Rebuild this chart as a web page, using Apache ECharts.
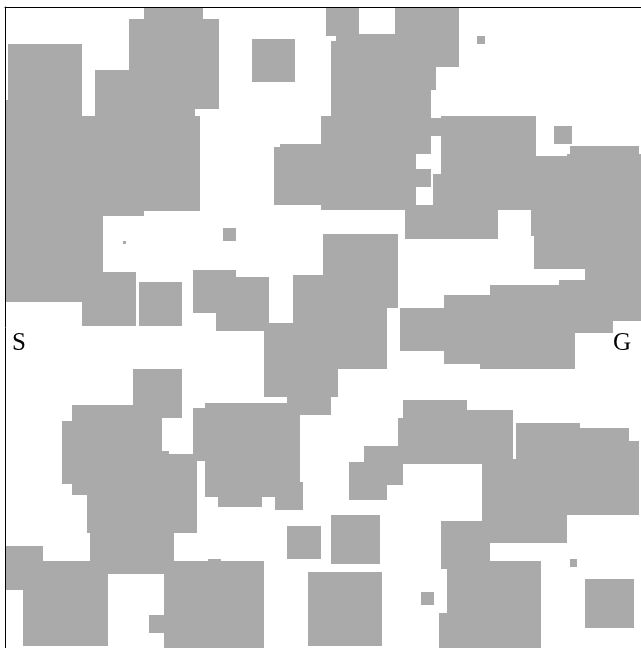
<!DOCTYPE html>
<html><head><meta charset="utf-8">
<style>html,body{margin:0;padding:0;background:#fff}#c{width:641px;height:648px}</style>
<script src="https://cdn.jsdelivr.net/npm/echarts@6/dist/echarts.min.js"></script>
</head><body><div id="c"></div>
<script>
// Obstacles in map units: [x0, y0, x1, y1]
const northWest = [[139,0,197.5,13],[123.5,11.5,213.5,101.5],[2.5,37,77.3,109],[90,63,190,109],[0,93,77.3,295],[0,109,97.5,295],[0,109,195.3,203.5],[0,198,139,209],[77.3,265.3,131,318.7]];
const isolated = [[133.7,275.3,177.3,318.7],[246.7,32,290,75.3],[218.3,221.3,231,234],[118.3,234.3,120.7,236.7],[472.3,29,480,37],[549.3,119,567.3,137],[282.3,518.7,315.7,551.7],[326,508.3,374.7,557],[303.3,564.7,377.3,639],[416,585.3,428.7,598],[564.7,552,572.3,559.7],[580,572.3,628.7,621]];
const centre = [[187.7,262.7,231,306],[210.7,270.3,264.3,323.7],[318.3,226.7,392.7,300.7],[287.7,267.7,382.3,362.3],[259.3,316,382.3,362.3],[259.3,316,333.3,390.3],[282.3,390,326,408.3]];
const southCentre = [[187.7,401,200.3,454.3],[200.3,395.7,295,490.3],[213.3,490,256.7,500.3],[269.7,475,297.7,503]];
const west = [[128.3,362.3,177.3,411],[67,398.3,156.7,487.7],[56.7,413.7,67,477.3],[82.3,447,192.3,526.3],[156.7,444.3,164.3,447],[85,526,169.3,567.3],[0,539,38.3,582.7],[18.3,554.3,102.7,639]];
const south = [[159.3,554.3,259.3,641],[203,552,215.7,555],[144,608.3,160,626.3]];
const southEast = [[397.7,393,462,413],[392.7,411,508.3,457.3],[462,403.3,508.3,413],[359.3,439.3,397.7,477.7],[344,454.7,382.3,493],[511,416.3,575,438],[575,421.3,623.7,438],[511,434,634,508.3],[477.3,452.3,634,508.3],[477.3,457,562.3,536.3],[436.3,513.7,485,562.3],[436.3,513.7,562.3,536.3],[441.7,554.3,536.3,641],[433.7,605.7,442,641]];
const north = [[321,0,354,29],[390.3,0,454,60],[331.3,26.7,454,60],[326,34.3,431.3,83],[326,83,426,109],[316,108.7,426,147.3],[316,108.7,410.7,203],[274.7,137,410.7,198],[269.3,139.7,410.7,198.3],[410.7,162.3,426,180.3],[426,111,436.3,129.3],[428.3,167.3,436.3,203],[410.7,198,436.3,203],[436.3,108.7,531.3,203],[400.3,198,492.7,231.7]];
const east = [[564.7,139.3,634,153],[526.3,149.3,636,229],[562,147,636,153],[528.7,229,636,262],[579.7,262,636,313.7],[554.3,272.7,608.3,326],[485,277.7,569.7,362.3],[439,288,485,357.3],[395.3,301,439,344.3],[474.7,343,485,362.3]];
const endpoints = [{name:'S',value:[14,336]},{name:'G',value:[617,336]}];
const mapWidth = 636, mapHeight = 641;

const obstacles = [].concat(northWest,isolated,centre,southCentre,west,south,southEast,north,east);
const chart = echarts.init(document.getElementById('c'),null,{renderer:'canvas'});
const hiddenBits = {axisTick:{show:false},axisLabel:{show:false},splitLine:{show:false}};
chart.setOption({
  animation:false,
  backgroundColor:'#fff',
  grid:{left:5,top:7,width:mapWidth,height:mapHeight,containLabel:false},
  xAxis:Object.assign({type:'value',min:0,max:mapWidth,position:'top',z:10,axisLine:{show:true,onZero:false,lineStyle:{color:'#000',width:1}}},hiddenBits),
  yAxis:Object.assign({type:'value',min:0,max:mapHeight,inverse:true,position:'left',z:10,axisLine:{show:true,onZero:false,lineStyle:{color:'#000',width:1}}},hiddenBits),
  series:[{
    type:'custom',
    silent:true,
    clip:true,
    z:1,
    data:obstacles,
    encode:{x:[0,2],y:[1,3]},
    renderItem:function(params,api){
      const a=api.coord([api.value(0),api.value(1)]).map(Math.round);
      const b=api.coord([api.value(2),api.value(3)]).map(Math.round);
      return {type:'rect',shape:{x:a[0],y:a[1],width:b[0]-a[0],height:b[1]-a[1]},style:{fill:'#aaaaaa',stroke:null}};
    }
  },{
    type:'scatter',
    silent:true,
    symbolSize:0,
    itemStyle:{opacity:1},
    data:endpoints,
    label:{show:true,position:'inside',formatter:'{b}',color:'#000',opacity:1,fontFamily:'Liberation Serif',fontSize:25}
  }]
});
</script></body></html>
